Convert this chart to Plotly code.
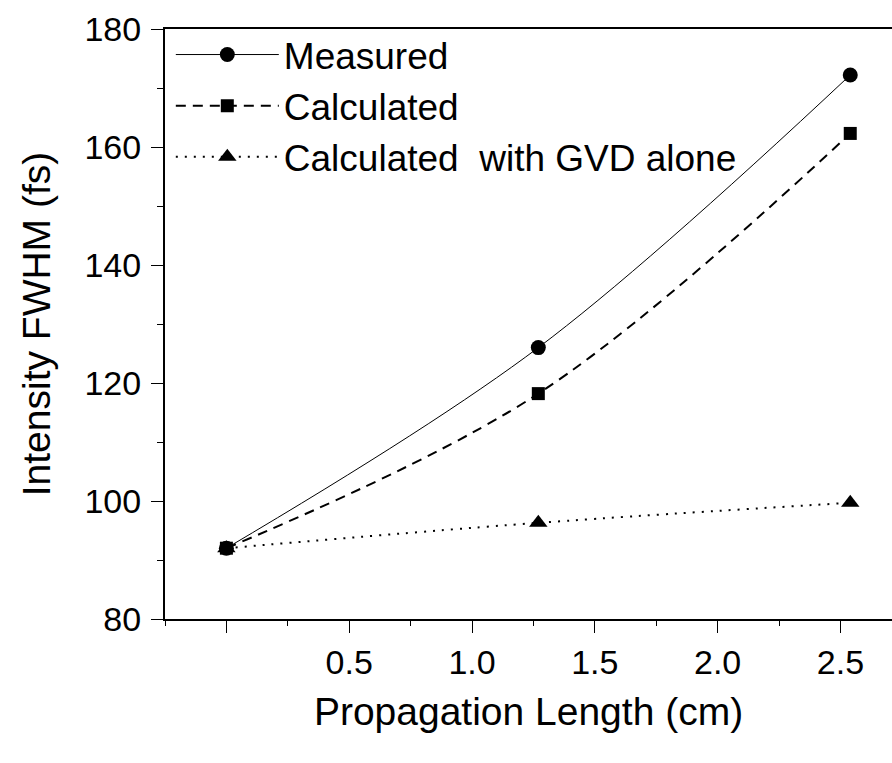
import plotly.graph_objects as go

# Propagation length (cm) and pulse duration (fs)
length_cm = [0.0, 1.27, 2.54]
measured = [92.0, 126.0, 172.2]
calculated = [92.0, 118.2, 162.3]
gvd_only = [92.0, 96.3, 99.7]

x_tick_vals = [0.0, 0.5, 1.0, 1.5, 2.0, 2.5]
x_tick_text = ["", "0.5", "1.0", "1.5", "2.0", "2.5"]
y_tick_vals = [80, 100, 120, 140, 160, 180]

FONT = "Liberation Sans, Arial, Helvetica, sans-serif"

fig = go.Figure()

fig.add_trace(go.Scatter(
    x=length_cm, y=measured, name="Measured",
    mode="lines+markers", line=dict(color="black", width=1, shape="spline"),
    marker=dict(symbol="circle", size=15, color="black"),
))
fig.add_trace(go.Scatter(
    x=length_cm, y=calculated, name="Calculated",
    mode="lines+markers", line=dict(color="black", width=2, dash="10px,7px", shape="spline"),
    marker=dict(symbol="square", size=13, color="black"),
))
fig.add_trace(go.Scatter(
    x=length_cm, y=gvd_only, name="Calculated\u00a0 with GVD alone",
    mode="lines+markers", line=dict(color="black", width=2, dash="2px,7px", shape="spline"),
    marker=dict(symbol="triangle-up", size=16, color="black"),
))

fig.update_layout(
    width=892, height=763,
    margin=dict(l=165, r=0, t=29, b=144),
    paper_bgcolor="white", plot_bgcolor="white",
    font=dict(family=FONT, color="black", size=34),
    showlegend=True,
    legend=dict(
        x=0.008, y=1.0085, xanchor="left", yanchor="top",
        bgcolor="rgba(0,0,0,0)", borderwidth=0,
        font=dict(size=37, family=FONT),
        itemwidth=103, tracegroupgap=0,
    ),
    xaxis=dict(
        range=[-0.25, 2.71],
        tickmode="array", tickvals=x_tick_vals, ticktext=x_tick_text,
        ticks="outside", ticklen=12, tickwidth=1, tickcolor="black",
        ticklabelstandoff=0,
        minor=dict(tickmode="linear", tick0=0, dtick=0.25, ticks="outside",
                   ticklen=5, tickwidth=1, tickcolor="black"),
        showline=True, linecolor="black", linewidth=2, mirror=True,
        showgrid=False, zeroline=False,
        tickfont=dict(size=34),
        title=dict(text="Propagation Length (cm)", font=dict(size=39), standoff=18),
    ),
    yaxis=dict(
        range=[80, 180],
        tickmode="array", tickvals=y_tick_vals,
        ticks="outside", ticklen=12, tickwidth=1, tickcolor="black",
        ticklabelstandoff=3,
        minor=dict(tickmode="linear", tick0=80, dtick=10, ticks="outside",
                   ticklen=6, tickwidth=1, tickcolor="black"),
        showline=True, linecolor="black", linewidth=2, mirror=False,
        showgrid=False, zeroline=False,
        tickfont=dict(size=34),
        title=dict(text="Intensity FWHM (fs)", font=dict(size=39), standoff=22),
    ),
)

fig.write_html("out.html")
